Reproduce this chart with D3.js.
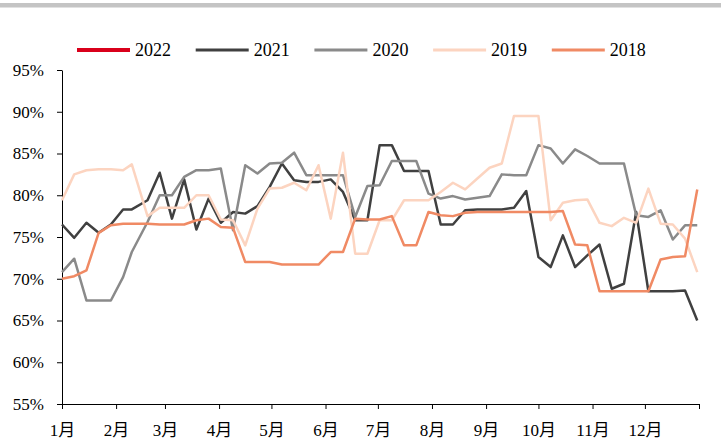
<!DOCTYPE html>
<html lang="zh">
<head>
<meta charset="UTF-8"/>
<title>开工率</title>
<style>
  body { margin: 0; background: #fff; }
  svg { display: block; }
  text { font-family: "Liberation Serif", "Times New Roman", "Noto Sans CJK SC", serif; font-size: 17px; fill: #000; }
  .axis path, .axis line { stroke: #000; stroke-width: 1; }
  .series { fill: none; stroke-width: 2.5; stroke-linejoin: round; }
  .legend text { font-size: 18px; }
</style>
</head>
<body>
<svg width="721" height="443"></svg>
<script src="https://d3js.org/d3.v7.min.js"></script>
<script>
// weekly dates (one common year), values in %
const weeks = [
  '01-01','01-08','01-15','01-22','01-29','02-05','02-10','02-19','02-26',
  '03-05','03-12','03-19','03-26','04-02','04-09','04-16','04-23','04-30',
  '05-07','05-14','05-21','05-28','06-04','06-11','06-18','06-25',
  '07-02','07-09','07-16','07-23','07-30','08-06','08-13','08-20','08-27',
  '09-03','09-10','09-17','09-24','10-01','10-08','10-15','10-22','10-29',
  '11-05','11-12','11-19','11-26','12-03','12-10','12-17','12-24','12-31'
];
const years = ['2022', '2021', '2020', '2019', '2018'];
const colors = ['#d9001b', '#404040', '#8a8a8a', '#fcd4c0', '#f08a64'];

const s2022 = [];
const s2021 = [76.5, 74.9, 76.7, 75.5, 76.5, 78.3, 78.3, 79.4, 82.7, 77.2, 81.9, 75.9, 79.6, 76.7,
  78.0, 77.8, 78.7, 81.0, 83.8, 81.8, 81.6, 81.6, 81.9, 80.4, 77.0, 77.0, 86.0, 86.0, 82.9, 82.9,
  82.9, 76.5, 76.5, 78.2, 78.3, 78.3, 78.3, 78.5, 80.5, 72.6, 71.4, 75.2, 71.4, 72.8, 74.1, 68.8,
  69.4, 78.0, 68.5, 68.5, 68.5, 68.6, 65.0];
const s2020 = [70.8, 72.4, 67.4, 67.4, 67.4, 70.2, 73.2, 76.8, 80.0, 80.0, 82.2, 83.0, 83.0, 83.2,
  75.8, 83.6, 82.6, 83.8, 83.9, 85.1, 82.4, 82.4, 82.4, 82.4, 77.4, 81.1, 81.2, 84.1, 84.1, 84.1,
  80.2, 79.6, 79.9, 79.5, 79.7, 79.9, 82.5, 82.4, 82.4, 86.0, 85.6, 83.8, 85.5, 84.7, 83.8, 83.8,
  83.8, 77.6, 77.4, 78.2, 74.7, 76.4, 76.4];
const s2019 = [79.4, 82.5, 83.0, 83.1, 83.1, 83.0, 83.7, 77.5, 78.5, 78.5, 78.5, 80.0, 80.0, 77.1,
  77.0, 74.0, 78.4, 80.8, 80.9, 81.5, 80.6, 83.6, 77.2, 85.1, 73.0, 73.0, 77.0, 77.0, 79.4, 79.4,
  79.4, 80.4, 81.5, 80.7, 82.0, 83.3, 83.8, 89.5, 89.5, 89.5, 77.0, 79.1, 79.4, 79.5, 76.7, 76.3,
  77.3, 76.7, 80.8, 76.6, 76.5, 74.8, 70.8];
const s2018 = [70.0, 70.3, 71.0, 75.5, 76.4, 76.6, 76.6, 76.6, 76.5, 76.5, 76.5, 77.0, 77.2, 76.2,
  76.1, 72.0, 72.0, 72.0, 71.7, 71.7, 71.7, 71.7, 73.2, 73.2, 77.2, 77.1, 77.1, 77.5, 74.0, 74.0,
  78.0, 77.6, 77.5, 77.9, 78.0, 78.0, 78.0, 78.0, 78.0, 78.0, 78.0, 78.1, 74.1, 74.0, 68.5, 68.5,
  68.5, 68.5, 68.5, 72.3, 72.6, 72.7, 80.7];
const seriesValues = [s2022, s2021, s2020, s2019, s2018];

const yTicks = [55, 60, 65, 70, 75, 80, 85, 90, 95];
const monthLabels = ['1月', '2月', '3月', '4月', '5月', '6月', '7月', '8月', '9月', '10月', '11月', '12月', ''];

const svg = d3.select('svg');
const plotLeft = 62, plotRight = 699, plotTop = 70, plotBottom = 404;
const parseDay = (s) => new Date(Date.UTC(2021, +s.slice(0, 2) - 1, +s.slice(3)));
const start = new Date(Date.UTC(2021, 0, 1));
const end = new Date(Date.UTC(2022, 0, 1));

const xScale = d3.scaleUtc().domain([start, end]).range([plotLeft, plotRight]);
const yScale = d3.scaleLinear().domain([55, 95]).range([plotBottom, plotTop]);

// top grey band
svg.append('rect')
  .attr('x', 0).attr('y', 3)
  .attr('width', 721).attr('height', 4.5)
  .attr('fill', '#c4c4c4');

svg.append('g')
  .attr('class', 'axis')
  .attr('transform', `translate(0, ${plotBottom})`)
  .call(d3.axisBottom(xScale)
    .tickValues(d3.utcMonth.range(start, d3.utcDay.offset(end, 1)))
    .tickFormat((d, i) => monthLabels[i])
    .tickSize(5)
    .tickSizeOuter(0)
    .tickPadding(15))
  .selectAll('text')
  .style('font-size', '17px');

svg.append('g')
  .attr('class', 'axis')
  .attr('transform', `translate(${plotLeft}, 0)`)
  .call(d3.axisLeft(yScale)
    .tickValues(yTicks)
    .tickFormat((d) => d + '%')
    .tickSize(5)
    .tickSizeOuter(0)
    .tickPadding(13))
  .selectAll('text')
  .style('font-size', '17px');

svg.selectAll('.axis text').attr('fill', '#000');

const line = d3.line()
  .x((d, i) => xScale(parseDay(weeks[i])))
  .y((d) => yScale(d));

svg.append('g')
  .selectAll('path')
  .data(seriesValues)
  .enter()
  .append('path')
  .attr('class', 'series')
  .attr('stroke', (d, i) => colors[i])
  .attr('d', (d) => d.length ? line(d) : null);

const legend = svg.append('g')
  .attr('class', 'legend')
  .selectAll('g')
  .data(years)
  .enter()
  .append('g')
  .attr('transform', (d, i) => `translate(${77 + i * 118.7}, 50)`);
legend.append('line')
  .attr('x1', 0).attr('x2', 53)
  .attr('stroke', (d, i) => colors[i])
  .attr('stroke-width', (d, i) => i === 0 ? 4 : 3);
legend.append('text')
  .attr('x', 58)
  .attr('dy', '0.33em')
  .text((d) => d);
</script>
</body>
</html>
